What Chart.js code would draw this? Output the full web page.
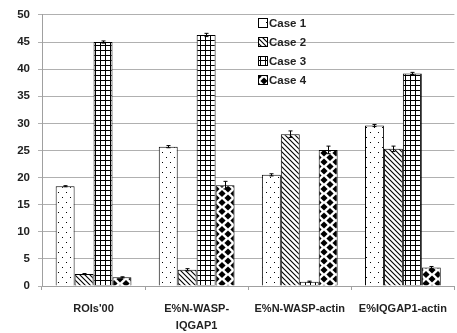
<!DOCTYPE html>
<html>
<head>
<meta charset="utf-8">
<script src="https://cdn.jsdelivr.net/npm/chart.js@4"></script>
<style>
  body { margin: 0; background: #fff; }
  #wrap { width: 457px; height: 333px; }
</style>
</head>
<body>
<div id="wrap"><canvas id="chart" width="457" height="333"></canvas></div>
<script>
const categories = [["ROIs'00"], ["E%N-WASP-", "IQGAP1"], ["E%N-WASP-actin"], ["E%IQGAP1-actin"]];
const seriesNames = ['Case 1', 'Case 2', 'Case 3', 'Case 4'];
const case1 = [18.4, 25.7, 20.5, 29.6];
const case2 = [2.2, 3.0, 28.0, 25.3];
const case3 = [45.0, 46.3, 0.8, 39.2];
const case4 = [1.6, 18.6, 25.1, 3.4];
const err1 = [0.1, 0.2, 0.2, 0.2];
const err2 = [0.1, 0.2, 0.6, 0.5];
const err3 = [0.2, 0.3, 0.1, 0.2];
const err4 = [0.1, 0.7, 0.7, 0.2];
const yTicks = [0, 5, 10, 15, 20, 25, 30, 35, 40, 45, 50];

const FONT = '"Liberation Sans", Arial, sans-serif';

// fill patterns for each case
function makePattern(w, h, draw) {
    const c = document.createElement('canvas');
    c.width = w; c.height = h;
    const g = c.getContext('2d');
    g.fillStyle = '#fff';
    g.fillRect(0, 0, w, h);
    g.fillStyle = '#000';
    g.strokeStyle = '#000';
    draw(g);
    return g.createPattern(c, 'repeat');
}

const dotPattern = makePattern(8, 10, g => {
    g.fillRect(2, 2, 1, 1);
    g.fillRect(6, 7, 1, 1);
});
const hatchPattern = makePattern(5, 5, g => {
    g.lineWidth = 1.1;
    g.beginPath();
    g.moveTo(-1, -1); g.lineTo(6, 6);
    g.moveTo(-1, 4); g.lineTo(1, 6);
    g.moveTo(4, -1); g.lineTo(6, 1);
    g.stroke();
});
const gridPattern = makePattern(5, 5, g => {
    g.fillRect(0, 0, 5, 1);
    g.fillRect(0, 0, 1, 5);
});
const diamondPattern = makePattern(12, 9, g => {
    const d = (x, y) => {
        g.beginPath();
        g.moveTo(x, y - 3.6); g.lineTo(x + 3.6, y); g.lineTo(x, y + 3.6); g.lineTo(x - 3.6, y);
        g.closePath(); g.fill();
    };
    d(0, 0); d(12, 0); d(0, 9); d(12, 9); d(6, 4.5);
});
const patterns = [dotPattern, hatchPattern, gridPattern, diamondPattern];

const values = [case1, case2, case3, case4];
const errors = [err1, err2, err3, err4];

// error bars drawn from the data through the y scale
const errorBars = {
    id: 'errorBars',
    afterDatasetsDraw(chart) {
        const ctx = chart.ctx;
        const y = chart.scales.y;
        ctx.save();
        ctx.strokeStyle = '#000';
        ctx.lineWidth = 1;
        chart.data.datasets.forEach((ds, di) => {
            chart.getDatasetMeta(di).data.forEach((bar, i) => {
                const v = ds.data[i], e = errors[di][i];
                const x = Math.round(bar.x) + 0.5;
                const top = y.getPixelForValue(v + e);
                const bot = y.getPixelForValue(v - e);
                ctx.beginPath();
                ctx.moveTo(x, top); ctx.lineTo(x, bot);
                ctx.moveTo(x - 2, top); ctx.lineTo(x + 2, top);
                ctx.moveTo(x - 2, bot); ctx.lineTo(x + 2, bot);
                ctx.stroke();
            });
        });
        ctx.restore();
    }
};

// vertical legend inside the plot
const stackedLegend = {
    id: 'stackedLegend',
    afterDraw(chart) {
        const ctx = chart.ctx;
        ctx.save();
        ctx.font = 'bold 11.5px ' + FONT;
        ctx.textBaseline = 'middle';
        seriesNames.forEach((name, i) => {
            const cy = 23 + i * 19;
            ctx.fillStyle = patterns[i];
            ctx.fillRect(259, cy - 4, 8, 8);
            ctx.strokeStyle = '#000';
            ctx.lineWidth = 1;
            ctx.strokeRect(258.5, cy - 4.5, 9, 9);
            ctx.fillStyle = '#222';
            ctx.fillText(name, 269, cy + 1);
        });
        ctx.restore();
    }
};

new Chart(document.getElementById('chart'), {
    type: 'bar',
    data: {
        labels: categories,
        datasets: seriesNames.map((name, i) => ({
            label: name,
            data: values[i],
            backgroundColor: patterns[i],
            borderColor: '#000',
            borderWidth: 1,
            categoryPercentage: 0.735,
            barPercentage: 1.0
        }))
    },
    options: {
        responsive: false,
        animation: false,
        layout: { padding: { top: 4, right: 1, left: 0, bottom: 0 } },
        plugins: {
            legend: { display: false },
            tooltip: { enabled: false }
        },
        scales: {
            x: {
                grid: {
                    offset: true,
                    drawOnChartArea: false,
                    drawTicks: true,
                    tickLength: 4,
                    color: '#a0a0a0'
                },
                border: { color: '#a0a0a0', width: 1 },
                ticks: {
                    color: '#222',
                    font: { family: FONT, size: 11, weight: 'bold', lineHeight: 1.6 },
                    maxRotation: 0,
                    autoSkip: false,
                    padding: 10
                },
                afterFit(scale) { scale.height = 47; }
            },
            y: {
                min: 0,
                max: 50,
                afterBuildTicks(scale) { scale.ticks = yTicks.map(v => ({ value: v })); },
                grid: {
                    color: '#b0b0b0',
                    lineWidth: 1,
                    tickLength: 4
                },
                border: { color: '#a0a0a0', width: 1 },
                ticks: {
                    color: '#222',
                    font: { family: FONT, size: 11.5, weight: 'bold' },
                    padding: 8
                },
                afterFit(scale) { scale.width = 42; }
            }
        }
    },
    plugins: [errorBars, stackedLegend]
});
</script>
</body>
</html>
